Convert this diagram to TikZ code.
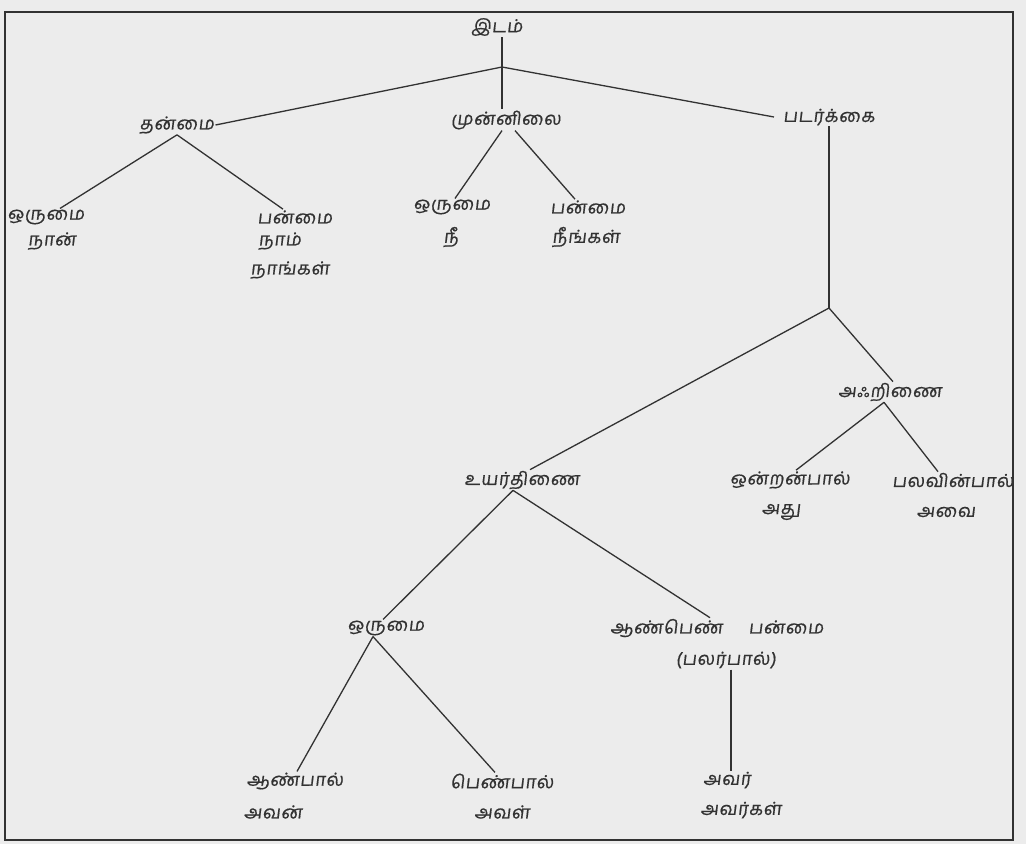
\documentclass[tikz,border=0pt]{standalone}
\usepackage{fontspec}
\newfontfamily\ta[Script=Tamil,FakeSlant=0.12,LetterSpace=4,FakeBold=0.6]{Hind Madurai}
\definecolor{paper}{RGB}{236,236,236}
\definecolor{ink}{RGB}{50,50,50}
\tikzset{
  lbl/.style={inner sep=1pt,font=\ta\fontsize{18}{20}\selectfont,text=ink},
  edge/.style={draw=ink,line width=1.3pt},
}
\begin{document}
\begin{tikzpicture}[x=1pt,y=-1pt]
\fill[paper] (0,0) rectangle (1026,844);
\useasboundingbox (0,0) rectangle (1026,844);
\draw[ink,line width=1.8pt] (5,12) rectangle (1013,840);
% nodes
\node[lbl] (root) at (497,27) {இடம்};
\node[lbl] (tan) at (177,125) {தன்மை};
\node[lbl] (mun) at (506,120) {முன்னிலை};
\node[lbl] (pad) at (829,117) {படர்க்கை};
\node[lbl] (o1) at (46,217) {ஒருமை};
\node[lbl] (naan) at (52,241) {நான்};
\node[lbl] (p1) at (295,217) {பன்மை};
\node[lbl] (naam) at (280,241) {நாம்};
\node[lbl] (naangal) at (290,270) {நாங்கள்};
\node[lbl] (o2) at (452,207) {ஒருமை};
\node[lbl] (nee) at (451,237) {நீ};
\node[lbl] (p2) at (588,207) {பன்மை};
\node[lbl] (neengal) at (586,237) {நீங்கள்};
\node[lbl] (uyar) at (522,480) {உயர்திணை};
\node[lbl] (ahr) at (890,392) {அஃறிணை};
\node[lbl] (onr) at (790,480) {ஒன்றன்பால்};
\node[lbl] (pal) at (953,480) {பலவின்பால்};
\node[lbl] (athu) at (781,512) {அது};
\node[lbl] (avai) at (946,512) {அவை};
\node[lbl] (o3) at (386,628) {ஒருமை};
\node[lbl] (aanpen) at (717,628) {ஆண்பெண்\hspace{26pt}பன்மை};
\node[lbl] (palar) at (726,660) {(பலர்பால்)};
\node[lbl] (aanpal) at (295,781) {ஆண்பால்};
\node[lbl] (avan) at (273,812) {அவன்};
\node[lbl] (penpal) at (502,781) {பெண்பால்};
\node[lbl] (aval) at (502,812) {அவள்};
\node[lbl] (avar) at (727,780) {அவர்};
\node[lbl] (avargal) at (741,810) {அவர்கள்};
% junctions
\coordinate (j0) at (502,67);
\coordinate (j1) at (829,308);
% connectors
\draw[edge] (j0|-root.south) -- (j0) -- (j0|-mun.north);
\draw[edge] (j0) -- (tan.east);
\draw[edge] (j0) -- ([xshift=-8]pad.west);
\draw[edge] (tan.south) -- ([xshift=14]o1.north);
\draw[edge] (tan.south) -- ([xshift=-12]p1.north);
\draw[edge] ([xshift=-4]mun.south) -- ([xshift=3]o2.north);
\draw[edge] ([xshift=9]mun.south) -- ([xshift=-13]p2.north);
\draw[edge] (pad.south) -- (j1);
\draw[edge] (j1) -- ([xshift=8]uyar.north);
\draw[edge] (j1) -- ([xshift=3]ahr.north);
\draw[edge] ([xshift=-6]ahr.south) -- ([xshift=6]onr.north);
\draw[edge] ([xshift=-6]ahr.south) -- ([xshift=-15]pal.north);
\draw[edge] ([xshift=-9]uyar.south) -- ([xshift=-3]o3.north);
\draw[edge] ([xshift=-9]uyar.south) -- ([xshift=-7]aanpen.north);
\draw[edge] ([xshift=-13]o3.south) -- ([xshift=2]aanpal.north);
\draw[edge] ([xshift=-13]o3.south) -- ([xshift=-7]penpal.north);
\draw[edge] ([xshift=5]palar.south) -- ([xshift=4]avar.north);
\end{tikzpicture}
\end{document}
